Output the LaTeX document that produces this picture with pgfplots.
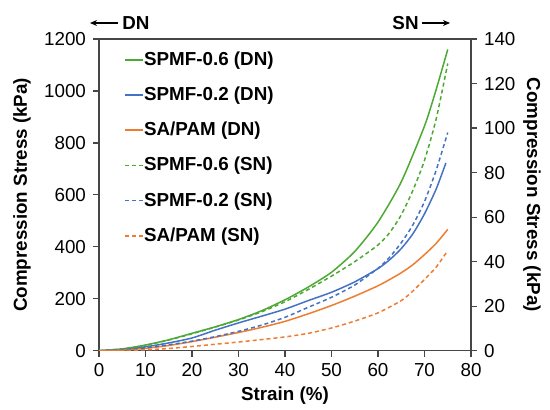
\documentclass[border=0pt]{standalone}
\usepackage{pgfplots}
\pgfplotsset{compat=1.18}
\usepackage{fontspec}
\setmainfont{Liberation Sans}
\usetikzlibrary{arrows.meta}
\definecolor{cgreen}{RGB}{76,170,52}
\definecolor{cblue}{RGB}{68,114,196}
\definecolor{corange}{RGB}{237,125,49}
\definecolor{axgray}{RGB}{70,70,70}
\begin{document}
\begin{tikzpicture}
\pgfplotsset{
  every axis/.append style={
    scale only axis, width=186pt, height=155.85pt,
    xmin=0, xmax=80,
    font=\fontsize{9.4}{11}\selectfont,
    /pgf/number format/assume math mode=true,
    /pgf/number format/1000 sep={},
    scaled ticks=false,
    tick align=outside, major tick length=3pt,
    axis line style={axgray, line width=0.6pt},
    tick style={axgray, line width=0.6pt},
  },
}
\begin{axis}[
  ymin=0, ymax=1200, ytick={0,200,...,1200}, xtick={0,10,...,80},
  xtick pos=bottom, ytick pos=left,
  xlabel={Strain (\%)}, ylabel={Compression Stress (kPa)},
  every axis x label/.style={at={(axis description cs:0.5,-0.144)}, anchor=center, font=\fontsize{9.4}{11}\selectfont\bfseries},
  every axis y label/.style={at={(axis description cs:-0.207,0.5)}, rotate=90, anchor=center, font=\fontsize{9.4}{11}\selectfont\bfseries},
  legend style={draw=none, fill=none, at={(axis description cs:0.05,0.985)}, anchor=north west,
    font=\fontsize{9.4}{11}\selectfont\bfseries, row sep=5.9pt,
    nodes={inner ysep=0.6pt, inner xsep=0.3pt, text height=0.8em, text depth=0.25em}},
  legend cell align=left,
  legend image code/.code={\draw[#1] (0pt,0pt) -- (9pt,0pt);},
  every axis plot/.append style={line width=0.75pt, smooth, tension=0.4},
]
\addplot[cgreen] coordinates {(0,0) (5,7) (10,22) (15,42) (20,67) (25,92) (30,120) (35,154) (40,196) (45,245) (50,302) (55,382) (60,495) (65,650) (70,865) (72.5,1005) (75,1160)};
\addlegendentry{SPMF-0.6 (DN)}
\addplot[cblue] coordinates {(0,0) (5,5) (10,15) (15,30) (20,49) (25,79) (30,107) (35,133) (40,160) (45,193) (50,225) (55,265) (60,316) (62.5,350) (65,393) (67.5,450) (70,527) (72.5,622) (74.6,723)};
\addlegendentry{SPMF-0.2 (DN)}
\addplot[corange] coordinates {(0,0) (5,3) (10,9) (15,20) (20,35) (25,52) (30,70) (35,90) (40,113) (45,142) (50,174) (55,210) (60,250) (62.5,274) (65,300) (67.5,331) (70,370) (72.5,413) (75,467)};
\addlegendentry{SA/PAM (DN)}
\addlegendimage{cgreen, dash pattern=on 2pt off 1.5pt, line width=0.75pt}
\addlegendentry{SPMF-0.6 (SN)}
\addlegendimage{cblue, dash pattern=on 2pt off 1.5pt, line width=0.75pt}
\addlegendentry{SPMF-0.2 (SN)}
\addlegendimage{corange, dash pattern=on 2pt off 1.5pt, line width=0.75pt}
\addlegendentry{SA/PAM (SN)}
\end{axis}
\begin{axis}[
  ymin=0, ymax=140, ytick={0,20,...,140},
  axis x line=none, axis y line*=right,
  ylabel={Compression Stress (kPa)},
  every axis y label/.style={at={(axis description cs:1.164,0.5)}, rotate=-90, anchor=center, font=\fontsize{9.4}{11}\selectfont\bfseries},
  every axis plot/.append style={line width=0.75pt, dash pattern=on 2pt off 1.5pt, smooth, tension=0.4},
]
\addplot[cgreen] coordinates {(0,0) (5,0.8) (10,2.4) (15,4.8) (20,7.6) (25,10.6) (30,13.8) (35,17.5) (40,22) (45,27.5) (50,33.5) (55,40) (60,47.5) (62.5,53) (65,61) (67.5,72) (70,85.5) (72.5,104) (75,129)};
\addplot[cblue] coordinates {(0,0) (5,0.4) (10,1.3) (15,2.7) (20,4.3) (25,6.3) (30,8.7) (35,11.5) (40,15) (45,19.5) (50,24) (55,29.5) (60,37) (62.5,42) (65,48.5) (67.5,56.5) (70,67) (72.5,81) (75,98)};
\addplot[corange] coordinates {(0,0) (5,0.1) (10,0.4) (15,1.0) (20,1.9) (25,2.9) (30,3.9) (35,5.0) (40,6.2) (45,7.8) (50,10.2) (55,13.3) (60,17) (65,22.5) (67.5,26.8) (70,32) (72.5,37.5) (75,45)};
\end{axis}
\draw[{Stealth[length=3.5pt,width=3pt]}-, line width=0.6pt] (-4.5pt,163.85pt) -- (9.5pt,163.85pt);
\node[anchor=west, inner sep=0pt, font=\fontsize{9.4}{11}\selectfont\bfseries] at (11.5pt,163.85pt) {DN};
\node[anchor=east, inner sep=0pt, font=\fontsize{9.4}{11}\selectfont\bfseries] at (160pt,163.85pt) {SN};
\draw[-{Stealth[length=3.5pt,width=3pt]}, line width=0.6pt] (161.5pt,163.85pt) -- (175.5pt,163.85pt);
\pgfresetboundingbox
\useasboundingbox (-49.5pt,-29.15pt) rectangle (225.5pt,175.35pt);
\end{tikzpicture}
\end{document}
